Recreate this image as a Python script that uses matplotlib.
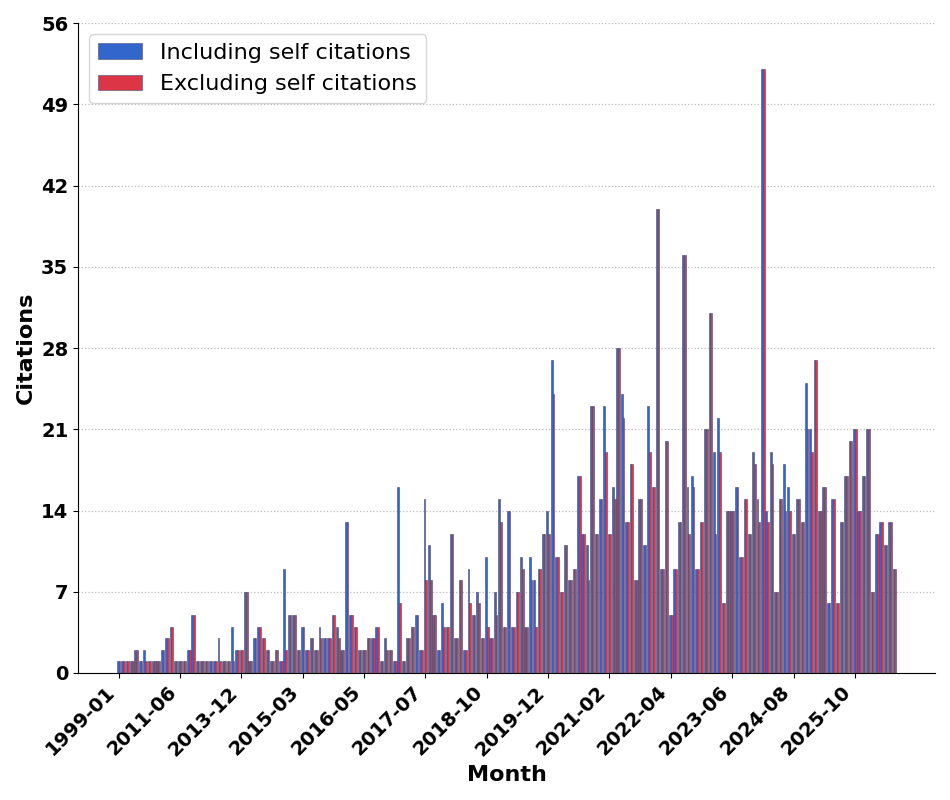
import matplotlib
matplotlib.use("Agg")
import matplotlib.pyplot as plt
import numpy as np
import pandas as pd

# ---- category labels (months with citations) ----
early_months = ["1999-01", "2001-03", "2003-06", "2004-11", "2006-02", "2007-05", "2008-01",
                "2008-09", "2009-04", "2009-10", "2010-03", "2010-08", "2010-11", "2011-02",
                "2011-06", "2011-08", "2011-10", "2011-12", "2012-02", "2012-04", "2012-05",
                "2012-07", "2012-09", "2012-10", "2012-12", "2013-03", "2013-06", "2013-09"]
skipped_months = ["2014-07", "2018-02"]
later_months = [str(p) for p in pd.period_range("2013-12", "2026-07", freq="M")
                if str(p) not in skipped_months]
months = early_months + later_months

including = [1, 1, 1, 1, 2, 1, 2, 1, 1, 1, 2, 3, 4, 1, 1, 1, 2, 5, 1, 1,
             1, 1, 1, 3, 1, 1, 4, 2, 2, 7, 1, 3, 4, 3, 2, 1, 2, 1, 9, 5,
             5, 2, 4, 2, 3, 2, 4, 3, 3, 5, 4, 2, 13, 5, 4, 2, 2, 3, 3, 4,
             1, 3, 2, 1, 16, 1, 3, 4, 5, 2, 15, 11, 5, 2, 6, 4, 12, 3, 8, 2,
             9, 5, 7, 3, 10, 3, 7, 15, 4, 14, 4, 7, 10, 4, 10, 8, 9, 12, 14, 27,
             10, 7, 11, 8, 9, 17, 12, 11, 23, 12, 15, 23, 12, 16, 28, 24, 13, 18, 8, 15,
             11, 23, 16, 40, 9, 20, 5, 9, 13, 36, 16, 17, 9, 13, 21, 31, 19, 22, 6, 14,
             14, 16, 10, 15, 12, 19, 15, 52, 14, 19, 7, 15, 18, 16, 12, 15, 13, 25, 21, 27,
             14, 16, 6, 15, 6, 13, 17, 20, 21, 14, 17, 21, 7, 12, 13, 11, 13, 9]
excluding = [1, 1, 1, 1, 2, 1, 1, 1, 1, 1, 2, 3, 4, 1, 1, 1, 2, 5, 1, 1,
             1, 1, 1, 1, 1, 1, 1, 2, 2, 7, 1, 3, 4, 3, 2, 1, 2, 1, 2, 5,
             5, 2, 4, 2, 3, 2, 3, 3, 3, 5, 3, 2, 13, 5, 4, 2, 2, 3, 3, 4,
             1, 2, 2, 1, 6, 1, 3, 4, 5, 2, 8, 8, 5, 2, 4, 4, 12, 3, 8, 2,
             6, 5, 6, 3, 4, 3, 5, 13, 4, 14, 4, 7, 9, 4, 8, 4, 9, 12, 12, 24,
             10, 7, 11, 8, 9, 17, 12, 8, 23, 12, 15, 19, 12, 15, 28, 22, 13, 18, 8, 15,
             11, 19, 16, 40, 9, 20, 5, 9, 13, 36, 12, 16, 9, 13, 21, 31, 12, 19, 6, 14,
             14, 16, 10, 15, 12, 18, 13, 52, 13, 18, 7, 15, 14, 14, 12, 15, 13, 21, 19, 27,
             14, 16, 6, 15, 6, 13, 17, 20, 21, 14, 17, 21, 7, 12, 13, 11, 13, 9]

series_labels = ["Including self citations", "Excluding self citations"]
colors = ["#3366cc", "#dc3545"]

fig = plt.figure(figsize=(9.5, 8), dpi=100)
ax = fig.add_axes([78 / 950, 1 - 673 / 800, (935 - 78) / 950, (673 - 23) / 800])

x = np.arange(len(months))
w = 0.4
ax.bar(x - w / 2, including, w, color=colors[0], edgecolor="#4a4a70", linewidth=0.4,
       label=series_labels[0], zorder=2)
ax.bar(x + w / 2, excluding, w, color=colors[1], edgecolor="#4a4a70", linewidth=0.4,
       label=series_labels[1], zorder=2)

ax.set_ylim(0, 56)
ax.set_yticks(np.arange(0, 57, 7))
ax.yaxis.grid(True, linestyle=":", color="#bbbbbb", linewidth=0.9, zorder=0)
ax.set_axisbelow(True)

tick_idx = x[::14]
ax.set_xticks(tick_idx)
ax.set_xticklabels([months[i] for i in tick_idx], rotation=45, ha="right",
                   fontsize=14, fontweight="bold")
for lab in ax.get_yticklabels():
    lab.set_fontsize(14)
    lab.set_fontweight("bold")

ax.spines["top"].set_visible(False)
ax.spines["right"].set_visible(False)

ax.set_xlabel("Month", fontsize=16, fontweight="bold")
ax.set_ylabel("Citations", fontsize=16, fontweight="bold")

ax.legend(loc="upper left", fontsize=16)

fig.savefig("out.png", dpi=100)
